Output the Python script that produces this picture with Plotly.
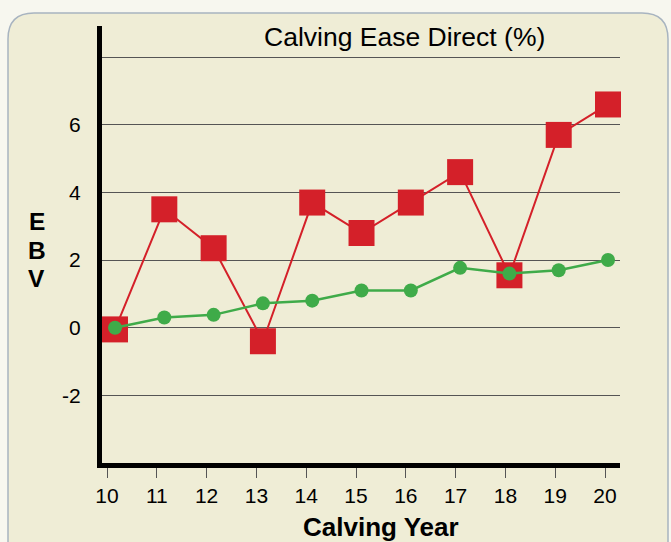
import plotly.graph_objects as go

years = [10, 11, 12, 13, 14, 15, 16, 17, 18, 19, 20]
red_values = [-0.05, 3.5, 2.35, -0.4, 3.7, 2.8, 3.7, 4.6, 1.55, 5.7, 6.6]
green_values = [0.0, 0.3, 0.38, 0.72, 0.8, 1.1, 1.1, 1.77, 1.6, 1.7, 2.0]
y_tickvals = [-2, 0, 2, 4, 6, 8]
y_ticktext = ["-2", "0", "2", "4", "6", ""]
x_ticktext = [str(y) for y in years]
ylabel_letters = ["E", "B", "V"]

RED = "#d42029"
GREEN = "#3fab49"
FONT = "Liberation Sans, Arial, sans-serif"

W, H = 671, 542
L, R, T, B = 102, 51, 26, 79
pw, ph = W - L - R, H - T - B

def px(x):
    return (x - L) / pw

def py(y):
    return (H - B - y) / ph

fig = go.Figure()
fig.add_trace(go.Scatter(
    x=years, y=red_values, mode="lines+markers",
    line=dict(color=RED, width=2),
    marker=dict(symbol="square", size=26, color=RED),
    showlegend=False, hoverinfo="skip", cliponaxis=False))
fig.add_trace(go.Scatter(
    x=years, y=green_values, mode="lines+markers",
    line=dict(color=GREEN, width=2.5),
    marker=dict(symbol="circle", size=14, color=GREEN),
    showlegend=False, hoverinfo="skip", cliponaxis=False))
# invisible trace that keeps the tick axis (xaxis2) active
fig.add_trace(go.Scatter(x=years, y=[None] * len(years), xaxis="x2",
                         showlegend=False, hoverinfo="skip"))

# rounded background panel
x0, x1 = px(8), px(668)
y0, y1 = py(560), py(13)
rx, ry = 26 / pw, 26 / ph
path = (f"M {x0},{y0} L {x0},{y1-ry} Q {x0},{y1} {x0+rx},{y1} "
        f"L {x1-rx},{y1} Q {x1},{y1} {x1},{y1-ry} L {x1},{y0} Z")

annotations = [
    dict(text="Calving Ease Direct (%)", x=px(404), y=py(37.5),
         xref="paper", yref="paper", showarrow=False,
         font=dict(size=26.5, family=FONT), xanchor="center",
         yanchor="middle"),
    dict(text="<b>Calving Year</b>", x=px(381), y=py(526.5),
         xref="paper", yref="paper", showarrow=False,
         font=dict(size=26, family=FONT), xanchor="center",
         yanchor="middle"),
]
for i, letter in enumerate(ylabel_letters):
    annotations.append(dict(
        text=f"<b>{letter}</b>", x=px(36.5), y=py(221.5 + 28.5 * i),
        xref="paper", yref="paper", showarrow=False,
        font=dict(size=24.5, family=FONT), xanchor="center",
        yanchor="middle"))

fig.update_layout(
    width=W, height=H,
    margin=dict(l=L, r=R, t=T, b=B, pad=0),
    paper_bgcolor="#f7f7ef",
    plot_bgcolor="rgba(0,0,0,0)",
    font=dict(family=FONT, color="#000000", size=21),
    shapes=[dict(type="path", path=path, xref="paper", yref="paper",
                 fillcolor="#efedd6", line=dict(color="#a8b4c0", width=1.5),
                 layer="below")],
    xaxis=dict(range=[9.736, 20.243], visible=False, showgrid=False,
               zeroline=False),
    xaxis2=dict(range=[9.8996, 20.301], overlaying="x", side="bottom",
                anchor="y", tickvals=years, ticktext=x_ticktext,
                showgrid=False, zeroline=False, showline=True,
                linecolor="#000000", linewidth=5,
                ticks="outside", ticklen=10, tickwidth=1.2,
                tickcolor="#555555",
                tickfont=dict(size=21, family=FONT)),
    yaxis=dict(range=[-4, 8.92], tickvals=y_tickvals, ticktext=y_ticktext,
               showgrid=True, gridcolor="#555555", gridwidth=1,
               zeroline=False, showline=True,
               linecolor="#000000", linewidth=5, ticks="",
               ticklabelstandoff=12,
               tickfont=dict(size=21, family=FONT)),
    annotations=annotations,
)

fig.write_html("out.html", config={"displayModeBar": False},
               post_script="document.body.style.margin='0px';")
